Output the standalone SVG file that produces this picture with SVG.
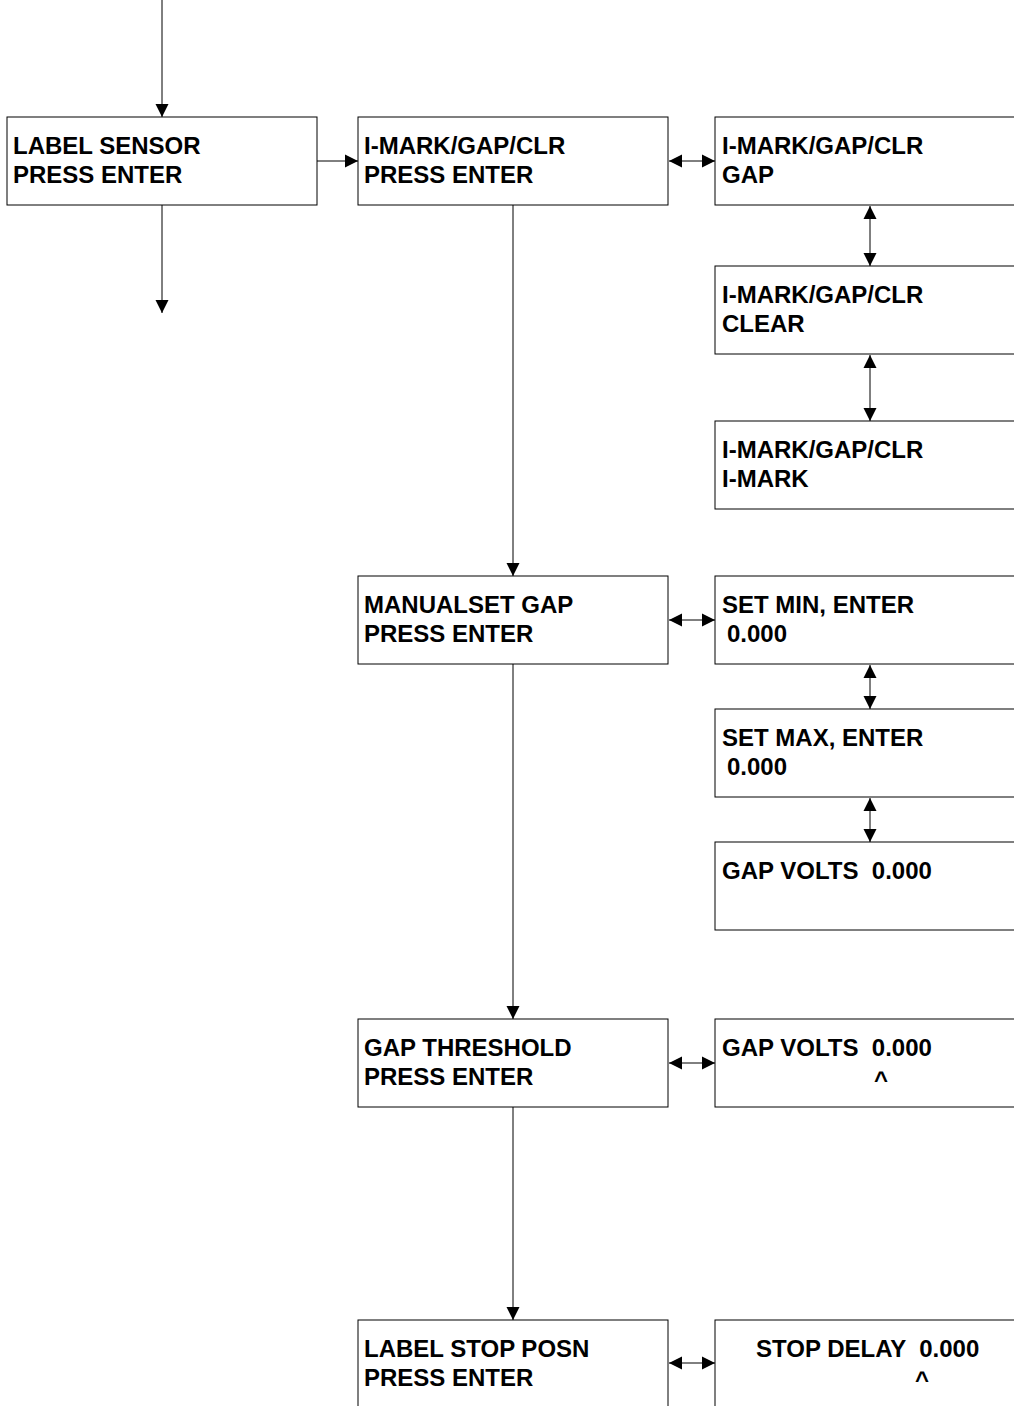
<svg xmlns="http://www.w3.org/2000/svg" width="1014" height="1406" viewBox="0 0 1014 1406">
<style>
.box{fill:#fff;stroke:#000;stroke-width:1}
.t{font-family:"Liberation Sans",Arial,sans-serif;font-weight:bold;font-size:24px;fill:#000}
.c{fill:none;stroke:#000;stroke-width:1}
</style>
<defs>
<marker id="ah" markerUnits="userSpaceOnUse" markerWidth="14" markerHeight="14" viewBox="0 0 14 14" refX="13" refY="7" orient="auto-start-reverse">
<path d="M0,0.5 L13,7 L0,13.5 Z" fill="#000"/>
</marker>
</defs>
<g id="connectors">
<line class="c" x1="162" y1="0" x2="162" y2="117" marker-end="url(#ah)"/>
<line class="c" x1="162" y1="205" x2="162" y2="313" marker-end="url(#ah)"/>
<line class="c" x1="317" y1="161" x2="358" y2="161" marker-end="url(#ah)"/>
<line class="c" x1="669" y1="161" x2="715" y2="161" marker-start="url(#ah)" marker-end="url(#ah)"/>
<line class="c" x1="870" y1="206" x2="870" y2="266" marker-start="url(#ah)" marker-end="url(#ah)"/>
<line class="c" x1="870" y1="355" x2="870" y2="421" marker-start="url(#ah)" marker-end="url(#ah)"/>
<line class="c" x1="513" y1="205" x2="513" y2="576" marker-end="url(#ah)"/>
<line class="c" x1="669" y1="620" x2="715" y2="620" marker-start="url(#ah)" marker-end="url(#ah)"/>
<line class="c" x1="870" y1="665" x2="870" y2="709" marker-start="url(#ah)" marker-end="url(#ah)"/>
<line class="c" x1="870" y1="798" x2="870" y2="842" marker-start="url(#ah)" marker-end="url(#ah)"/>
<line class="c" x1="513" y1="664" x2="513" y2="1019" marker-end="url(#ah)"/>
<line class="c" x1="669" y1="1063" x2="715" y2="1063" marker-start="url(#ah)" marker-end="url(#ah)"/>
<line class="c" x1="513" y1="1107" x2="513" y2="1320" marker-end="url(#ah)"/>
<line class="c" x1="669" y1="1363" x2="715" y2="1363" marker-start="url(#ah)" marker-end="url(#ah)"/>
</g>
<g id="label-sensor">
<rect class="box" x="7" y="117" width="310" height="88"/>
<text class="t" x="13" y="154">LABEL SENSOR</text>
<text class="t" x="13" y="183">PRESS ENTER</text>
</g>
<g id="imark-main">
<rect class="box" x="358" y="117" width="310" height="88"/>
<text class="t" x="364" y="154">I-MARK/GAP/CLR</text>
<text class="t" x="364" y="183">PRESS ENTER</text>
</g>
<g id="imark-gap">
<rect class="box" x="715" y="117" width="310" height="88"/>
<text class="t" x="722" y="154">I-MARK/GAP/CLR</text>
<text class="t" x="722" y="183">GAP</text>
</g>
<g id="imark-clear">
<rect class="box" x="715" y="266" width="310" height="88"/>
<text class="t" x="722" y="303">I-MARK/GAP/CLR</text>
<text class="t" x="722" y="332">CLEAR</text>
</g>
<g id="imark-imark">
<rect class="box" x="715" y="421" width="310" height="88"/>
<text class="t" x="722" y="458">I-MARK/GAP/CLR</text>
<text class="t" x="722" y="487">I-MARK</text>
</g>
<g id="manualset">
<rect class="box" x="358" y="576" width="310" height="88"/>
<text class="t" x="364" y="613">MANUALSET GAP</text>
<text class="t" x="364" y="642">PRESS ENTER</text>
</g>
<g id="set-min">
<rect class="box" x="715" y="576" width="310" height="88"/>
<text class="t" x="722" y="613">SET MIN, ENTER</text>
<text class="t" x="727" y="642">0.000</text>
</g>
<g id="set-max">
<rect class="box" x="715" y="709" width="310" height="88"/>
<text class="t" x="722" y="746">SET MAX, ENTER</text>
<text class="t" x="727" y="775">0.000</text>
</g>
<g id="gap-volts-1">
<rect class="box" x="715" y="842" width="310" height="88"/>
<text class="t" x="722" y="879" xml:space="preserve">GAP VOLTS  0.000</text>
</g>
<g id="gap-threshold">
<rect class="box" x="358" y="1019" width="310" height="88"/>
<text class="t" x="364" y="1056">GAP THRESHOLD</text>
<text class="t" x="364" y="1085">PRESS ENTER</text>
</g>
<g id="gap-volts-2">
<rect class="box" x="715" y="1019" width="310" height="88"/>
<text class="t" x="722" y="1056" xml:space="preserve">GAP VOLTS  0.000</text>
<text class="t" x="874" y="1088">^</text>
</g>
<g id="label-stop">
<rect class="box" x="358" y="1320" width="310" height="90"/>
<text class="t" x="364" y="1357">LABEL STOP POSN</text>
<text class="t" x="364" y="1386">PRESS ENTER</text>
</g>
<g id="stop-delay">
<rect class="box" x="715" y="1320" width="310" height="90"/>
<text class="t" x="756" y="1357" xml:space="preserve">STOP DELAY  0.000</text>
<text class="t" x="915" y="1388">^</text>
</g>
</svg>
